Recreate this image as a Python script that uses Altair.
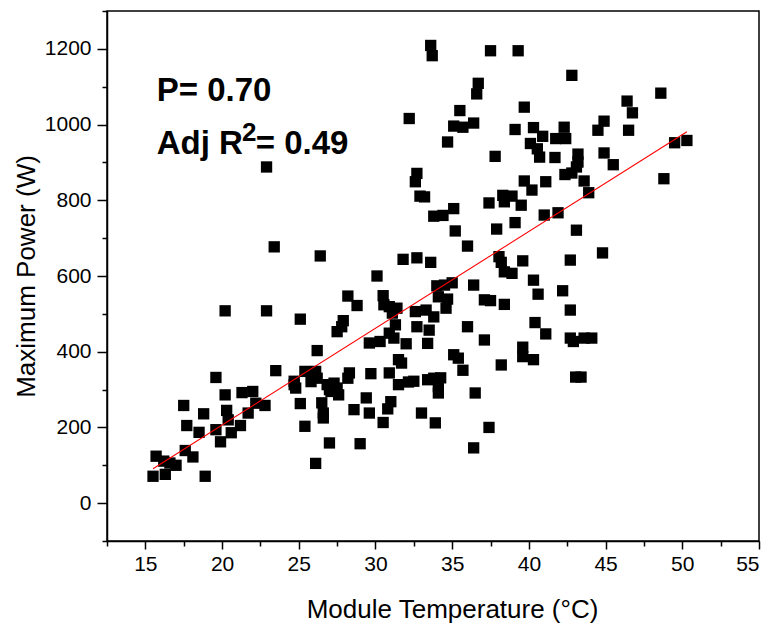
import altair as alt
import pandas as pd

# ---- data ----
temp_c = [15.5, 16.3, 15.7, 16.2, 16.6, 17.0, 17.6, 18.1, 18.9, 17.5, 17.7, 18.5, 18.8, 19.6, 19.6, 19.9,
          20.2, 20.2, 20.3, 20.4, 20.6, 21.2, 21.3, 21.7, 22.0, 22.2, 22.8, 22.9, 23.5, 22.9, 23.4,
          24.7, 24.7, 24.8, 25.1, 25.1, 25.4, 25.4, 25.8, 26.1, 26.2, 26.2, 26.1, 26.4, 26.5, 26.6, 26.6,
          27.0, 26.85, 27.0, 27.3, 27.1, 27.5, 27.6, 27.5, 27.8, 27.9, 28.2, 28.8, 28.3, 28.2, 28.6, 29.0,
          29.4, 29.6, 29.6, 29.7, 30.1, 30.3, 30.5, 30.55, 30.9, 31.4, 31.1, 31.3, 30.9, 31.2, 30.9, 31.5,
          31.7, 31.5, 32.15, 32.5, 31.0, 30.8, 30.5, 32.0, 31.8, 32.2, 32.6, 32.7, 32.7, 32.6, 32.9, 32.7,
          33.0, 33.6, 33.7, 33.3, 33.8, 33.5, 33.4, 33.4, 33.8, 34.25, 34.1, 34.1, 33.9, 33.6, 33.8, 34.4,
          35.1, 33.2, 34.7, 35.1, 35.7, 36.4, 35.5, 35.2, 34.0, 34.5, 35.0, 34.1, 34.7, 34.6, 35.1, 35.4,
          35.7, 36.0, 36.0, 36.4, 36.5, 36.4, 36.7, 36.6, 37.1, 37.5, 37.1, 37.4, 37.5, 37.4, 37.8, 37.9,
          38.05, 38.2, 38.4, 38.9, 39.6, 38.4, 38.2, 38.3, 38.9, 38.4, 39.1, 39.3, 39.1, 39.5, 39.7, 39.7,
          39.6, 39.6, 40.3, 40.3, 40.6, 40.4, 41.1, 40.3, 40.9, 40.1, 40.55, 40.7, 40.2, 41.1, 41.0, 41.9,
          41.75, 41.7, 42.2, 42.3, 42.4, 42.35, 42.8, 43.1, 43.2, 43.2, 42.8, 42.7, 42.7, 42.7, 42.9, 43.6,
          44.1, 43.05, 43.4, 43.1, 43.6, 43.9, 44.5, 44.9, 44.9, 45.5, 44.8, 46.4, 46.75, 46.5, 48.6, 48.8,
          49.5, 50.3]
power_w = [71, 76, 124, 111, 106, 100, 139, 122, 71, 258, 205, 187, 236, 332, 194, 162,
           508, 286, 245, 220, 186, 205, 292, 238, 295, 264, 258, 508, 350, 888, 677,
           322, 313, 304, 486, 263, 203, 348, 321, 348, 330, 403, 105, 653, 265, 238, 225,
           159, 313, 300, 317, 295, 304, 286, 453, 466, 482, 547, 522, 344, 330, 247, 157,
           278, 238, 423, 342, 600, 427, 548, 524, 519, 515, 502, 471, 449, 436, 344, 379,
           370, 313, 320, 322, 268, 249, 213, 421, 644, 1016, 506, 466, 871, 849, 811, 648,
           238, 1209, 1182, 510, 492, 457, 422, 326, 330, 331, 308, 291, 212, 636, 758, 760,
           778, 809, 954, 996, 993, 1004, 1037, 719, 574, 576, 582, 545, 539, 515, 392, 383,
           351, 466, 679, 576, 291, 146, 1109, 1081, 537, 535, 431, 200, 1195, 793, 916, 724,
           651, 636, 611, 607, 640, 525, 365, 813, 811, 796, 987, 1195, 741, 787, 851, 1046,
           412, 387, 379, 589, 552, 477, 447, 992, 969, 950, 936, 914, 827, 849, 761, 767,
           963, 913, 561, 993, 963, 868, 872, 888, 901, 922, 1130, 642, 510, 436, 427, 436,
           436, 333, 333, 721, 851, 820, 985, 1009, 925, 894, 661, 1062, 1031, 985, 1083, 857,
           952, 958]

fit_temp = [15.5, 50.3]
fit_power = [91, 981]

x_major = [15, 20, 25, 30, 35, 40, 45, 50, 55]
x_minor = [12.5, 17.5, 22.5, 27.5, 32.5, 37.5, 42.5, 47.5, 52.5]
y_major = [0, 200, 400, 600, 800, 1000, 1200]
y_minor = [-100, 100, 300, 500, 700, 900, 1100, 1300]

ann_text = ["P= 0.70", "Adj R", "2", "= 0.49"]
ann_x = [15.74, 15.74, 21.3, 22.2]
ann_y = [1061, 921, 956, 921]
ann_size = [33, 33, 26, 33]

FONT = "Liberation Sans"

pts = pd.DataFrame({"temp": temp_c, "power": power_w})
fit = pd.DataFrame({"temp": fit_temp, "power": fit_power})
ann = pd.DataFrame({"t": ann_text, "x": ann_x, "y": ann_y, "s": ann_size})

xscale = alt.Scale(domain=[12.5, 55], nice=False, zero=False)
yscale = alt.Scale(domain=[-100, 1300], nice=False, zero=False)

points = alt.Chart(pts).mark_square(size=128, color="black", opacity=1, filled=True).encode(
    x=alt.X("temp:Q", scale=xscale,
            axis=alt.Axis(values=x_major, orient="bottom", tickSize=8, labelPadding=4, format="d",
                          labelFontSize=21, labelFont=FONT, labelColor="black",
                          title="Module Temperature (°C)", titleFontSize=26, titleFontWeight="normal",
                          titleFont=FONT, titleColor="black",
                          titleX=345, titleY=76, titleBaseline="alphabetic", titleAlign="center")),
    y=alt.Y("power:Q", scale=yscale,
            axis=alt.Axis(values=y_major, orient="left", tickSize=10, labelPadding=6, format="d",
                          labelFontSize=21, labelFont=FONT, labelColor="black",
                          title="Maximum Power (W)", titleFontSize=26, titleFontWeight="normal",
                          titleFont=FONT, titleColor="black",
                          titleX=-73, titleY=265, titleAngle=-90, titleBaseline="alphabetic",
                          titleAlign="center")),
)

line = alt.Chart(fit).mark_line(color="#ff0000", strokeWidth=1.1).encode(
    x=alt.X("temp:Q", scale=xscale,
            axis=alt.Axis(values=x_minor, orient="bottom", tickSize=5, labels=False,
                          domain=False, title=None)),
    y=alt.Y("power:Q", scale=yscale,
            axis=alt.Axis(values=y_minor, orient="left", tickSize=5, labels=False,
                          domain=False, title=None)),
)

text = alt.Chart(ann).mark_text(font=FONT, fontWeight="bold", align="left",
                                baseline="alphabetic", color="black").encode(
    x=alt.X("x:Q", scale=xscale, axis=None),
    y=alt.Y("y:Q", scale=yscale, axis=None),
    text="t:N",
    size=alt.Size("s:Q", scale=None, legend=None),
)

chart = alt.layer(points, line, text).resolve_axis(
    x="independent", y="independent"
).properties(
    width=652, height=530,
    background="white",
    autosize=alt.AutoSizeParams(type="none"),
    padding={"left": 107, "top": 11, "right": 13, "bottom": 83},
).configure_view(
    stroke="black", strokeWidth=1.5
).configure_axis(
    grid=False, tickColor="black", domainColor="black", domainWidth=1.5, tickWidth=1.5,
)

chart.save("out.html", embed_options={"renderer": "svg", "actions": False})
